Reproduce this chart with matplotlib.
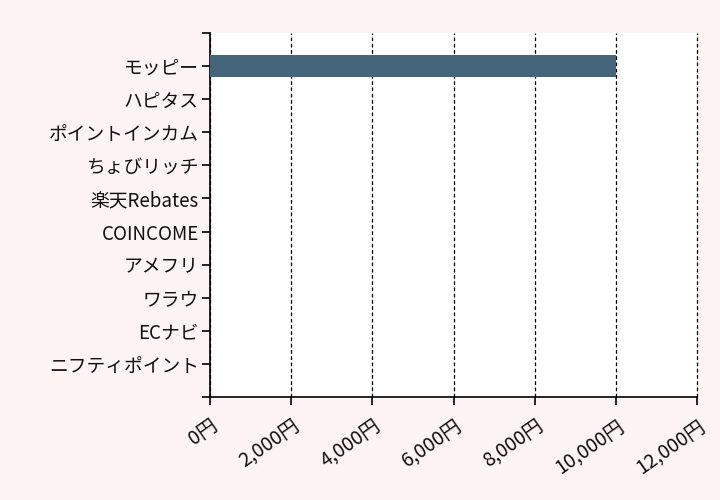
import numpy as np
import matplotlib
matplotlib.use("Agg")
import matplotlib.pyplot as plt
from matplotlib.ticker import FuncFormatter, MultipleLocator

plt.rcParams['font.family'] = ['Noto Sans CJK JP', 'DejaVu Sans']

# Data
sites = ["モッピー", "ハピタス", "ポイントインカム", "ちょびリッチ", "楽天Rebates",
         "COINCOME", "アメフリ", "ワラウ", "ECナビ", "ニフティポイント"]
points = [10000, 0, 0, 0, 0, 0, 0, 0, 0, 0]

bg = "#fff4f4"
bar_color = "#44657a"

fig = plt.figure(figsize=(7.2, 5.0), dpi=100, facecolor=bg)
ax = fig.add_axes([210/720, 103/500, 487/720, 364/500])
ax.set_facecolor("white")

ypos = np.arange(1, len(sites) + 1)
ax.barh(ypos, points, height=0.67, color=bar_color, zorder=3)

ax.set_xlim(0, 12000)
ax.set_ylim(len(sites) + 1, 0)
ax.xaxis.set_major_locator(MultipleLocator(2000))
ax.xaxis.set_major_formatter(FuncFormatter(lambda v, p: "{:,.0f}円".format(v)))

# ticks at each category, plus both ends of the axis
ax.set_yticks(np.arange(0, len(sites) + 2))
ax.set_yticklabels([""] + sites + [""])

ax.grid(axis='x', color='black', linestyle=(0, (3, 2)), linewidth=0.9, zorder=1)
for gl in ax.get_xgridlines():
    gl.set_clip_on(False)
ax.spines['top'].set_visible(False)
ax.spines['right'].set_visible(False)
ax.spines['left'].set_linewidth(1.2)
ax.spines['bottom'].set_linewidth(1.2)

ax.tick_params(axis='both', length=6, width=1.2, colors='black', labelcolor='#111111', labelsize=13.5)
ax.tick_params(axis='y', pad=2)
ax.tick_params(axis='x', pad=7, labelsize=14)
for lab in ax.get_xticklabels():
    lab.set_rotation(35)
    lab.set_ha('right')
    lab.set_rotation_mode('anchor')

fig.savefig("out.png", dpi=100, facecolor=bg)
